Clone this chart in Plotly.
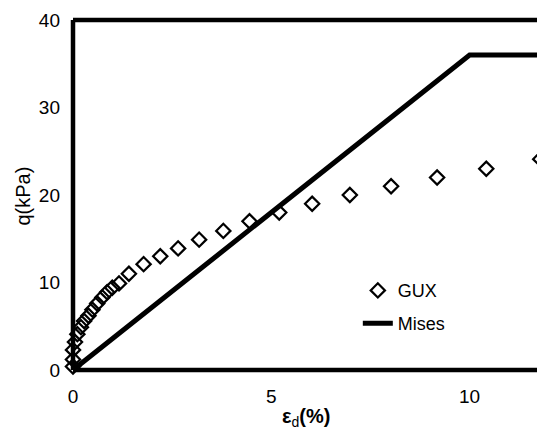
import plotly.graph_objects as go

# GUX data (strain %, q kPa)
gux_x = [0, 0, 0, 0.05, 0.11, 0.2, 0.28, 0.39, 0.49, 0.61, 0.74, 0.86, 0.99, 1.16,
         1.41, 1.78, 2.2, 2.65, 3.18, 3.79, 4.45, 5.2, 6.03, 6.98, 8.02, 9.18, 10.42, 11.78]
gux_y = [0.4, 1.2, 2.3, 3.2, 4.1, 4.9, 5.6, 6.2, 6.9, 7.6, 8.3, 8.9, 9.4, 9.9,
         11.0, 12.1, 13.0, 13.9, 14.9, 15.9, 17.0, 18.0, 19.0, 20.0, 21.0, 22.0, 23.0, 24.1]

# Mises model
mises_x = [0, 10, 12]
mises_y = [0, 36, 36]

x_ticks = [0, 5, 10]
y_ticks = [0, 10, 20, 30, 40]

FONT = "Arial, Liberation Sans, Helvetica, sans-serif"

fig = go.Figure()
fig.add_trace(go.Scatter(
    x=gux_x, y=gux_y, mode="markers", name="GUX",
    marker=dict(symbol="diamond-open", size=11, color="black", line=dict(width=2.2, color="black")),
    legend="legend", cliponaxis=False, showlegend=True,
))
fig.add_trace(go.Scatter(
    x=mises_x, y=mises_y, mode="lines", name="Mises",
    line=dict(color="black", width=5),
    legend="legend2", cliponaxis=True, showlegend=True,
))

# page body has an 8px margin, so the figure is shrunk by that amount
W, H = 537, 425
L, R, T, B = 65, 2, 9, 63

frame = [
    dict(x0=0, x1=0, y0=0, y1=1, w=4.5),
    dict(x0=0, x1=1, y0=1, y1=1, w=4.5),
    dict(x0=0, x1=1, y0=0, y1=0, w=4.5),
    dict(x0=1, x1=1, y0=0, y1=1, w=1.5),
]
shapes = [dict(type="line", xref="paper", yref="paper", x0=f["x0"], x1=f["x1"],
               y0=f["y0"], y1=f["y1"], line=dict(color="black", width=f["w"]), layer="above")
          for f in frame]

fig.update_layout(
    width=W, height=H,
    margin=dict(l=L, r=R, t=T, b=B),
    paper_bgcolor="white", plot_bgcolor="white",
    font=dict(family=FONT, size=19, color="black"),
    shapes=shapes,
    showlegend=True,
    xaxis=dict(range=[0, 11.85], tickvals=x_ticks, ticktext=[str(v) for v in x_ticks],
               showgrid=False, zeroline=False, showline=False, ticks="",
               ticklabelstandoff=13, tickfont=dict(size=19), ticklabeloverflow="allow"),
    yaxis=dict(range=[0, 40], tickvals=y_ticks, ticktext=[str(v) for v in y_ticks],
               showgrid=False, zeroline=False, showline=False, ticks="",
               ticklabelstandoff=12, tickfont=dict(size=19), ticklabeloverflow="allow"),
    legend=dict(x=0.606, y=0.2266, xanchor="left", yanchor="middle",
                bgcolor="rgba(0,0,0,0)", font=dict(size=18), itemwidth=30),
    legend2=dict(x=0.606, y=0.133, xanchor="left", yanchor="middle",
                 bgcolor="rgba(0,0,0,0)", font=dict(size=18), itemwidth=30),
    annotations=[
        dict(text="q(kPa)", xref="paper", yref="paper", x=-0.106, y=0.496,
             textangle=-90, showarrow=False, font=dict(size=20), xanchor="center", yanchor="middle"),
        dict(text="<b>ε</b><sub>d</sub><b>(%)</b>", xref="paper", yref="paper", x=0.496, y=-0.136,
             showarrow=False, font=dict(size=20), xanchor="center", yanchor="middle"),
    ],
)

fig.write_html("out.html")
